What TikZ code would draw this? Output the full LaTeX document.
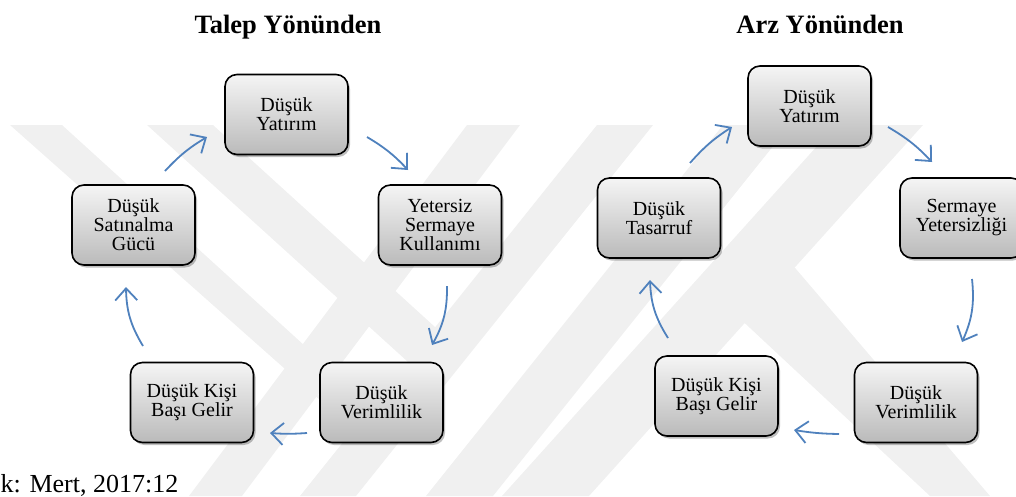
\documentclass[tikz,border=0pt]{standalone}
\usepackage{fontspec}
\setmainfont{Liberation Serif}
\usetikzlibrary{arrows.meta,shadows}
\definecolor{cycleblue}{HTML}{4F81BD}
\definecolor{markgray}{HTML}{F0F0F0}
\begin{document}
\begin{tikzpicture}[x=1pt,y=-1pt,
  stage/.style={draw=black, line width=1.6pt, rounded corners=12pt,
    minimum width=123pt, minimum height=80pt, inner sep=0pt,
    top color=black!4, bottom color=black!27, align=center,
    font=\fontsize{20}{19}\selectfont,
    drop shadow={shadow xshift=2pt, shadow yshift=-2.5pt, opacity=0.25, fill=black}},
  flow/.style={draw=cycleblue, line width=1.8pt,
    -{Straight Barb[length=12pt,width=22pt,line width=1.8pt]}},
  heading/.style={font=\fontsize{26.5}{30}\selectfont\bfseries, anchor=base},
  band/.style={fill=markgray, draw=none}]
\useasboundingbox (0,0) rectangle (1016,496);
\clip (0,0) rectangle (1016,496);

% faint striped emblem in the background
\begin{scope}
  \clip (0,125) rectangle (1016,496);
  \fill[band] (10,125) -- (62,125) -- (305,346) -- (320,400) -- cycle;
  \fill[band] (147,125) -- (213,125) -- (435,327) -- (440,391) -- cycle;
  \fill[band] (467,125) -- (520,125) -- (242,496) -- (189,496) -- cycle;
  \fill[band] (597,125) -- (653,125) -- (356,496) -- (300,496) -- cycle;
  \fill[band] (723,125) -- (790,125) -- (493,496) -- (426,496) -- cycle;
  \fill[band] (836,125) -- (923,125) -- (589,496) -- (502,496) -- cycle;
  \fill[band] (720,300) -- (790,262) -- (990,496) -- (930,496) -- cycle;
\end{scope}

% headings and source line
\node[heading] (hdemand) at (288,33) {Talep Yönünden};
\node[heading] (hsupply) at (820,33) {Arz Yönünden};
\node[font=\fontsize{26}{30}\selectfont, anchor=base west, inner sep=0pt] (source) at (0.5,492) {k: Mert, 2017:12};

% demand-side cycle
\node[stage] (dyat) at (286.5,114.5) {Düşük\\Yatırım};
\node[stage] (dguc) at (133.5,225) {Düşük\\Satınalma\\Gücü};
\node[stage] (dyet) at (440,225) {Yetersiz\\Sermaye\\Kullanımı};
\node[stage] (dkisi) at (192,402.5) {Düşük Kişi\\Başı Gelir};
\node[stage] (dver) at (381.5,402.5) {Düşük\\Verimlilik};

% supply-side cycle
\node[stage] (syat) at (809.5,106) {Düşük\\Yatırım};
\node[stage] (stas) at (659,218) {Düşük\\Tasarruf};
\node[stage] (sser) at (961.5,218) {Sermaye\\Yetersizliği};
\node[stage] (skisi) at (716.5,396) {Düşük Kişi\\Başı Gelir};
\node[stage] (sver) at (916,402.5) {Düşük\\Verimlilik};

% arrow end points (demand side)
\coordinate (d1s) at (165,171);  \coordinate (d1e) at (207,137);
\coordinate (d2s) at (367,137);  \coordinate (d2e) at (408,170);
\coordinate (d3s) at (447,286);  \coordinate (d3e) at (432,345);
\coordinate (d4s) at (307,433);  \coordinate (d4e) at (270,433);
\coordinate (d5s) at (143,346);  \coordinate (d5e) at (126,287);
% arrow end points (supply side)
\coordinate (s1s) at (690,163);  \coordinate (s1e) at (732,127);
\coordinate (s2s) at (888,127);  \coordinate (s2e) at (932,162);
\coordinate (s3s) at (972,279);  \coordinate (s3e) at (962,342);
\coordinate (s4s) at (839,434);  \coordinate (s4e) at (794,430);
\coordinate (s5s) at (668,338);  \coordinate (s5e) at (650,280);

\draw[flow] (d1s) to[bend left=8] (d1e);
\draw[flow] (d2s) to[bend left=8] (d2e);
\draw[flow] (d3s) to[bend left=15] (d3e);
\draw[flow] (d4s) to[bend left=4] (d4e);
\draw[flow] (d5s) to[bend left=15] (d5e);

\draw[flow] (s1s) to[bend left=8] (s1e);
\draw[flow] (s2s) to[bend left=8] (s2e);
\draw[flow] (s3s) to[bend left=15] (s3e);
\draw[flow] (s4s) to[bend left=4] (s4e);
\draw[flow] (s5s) to[bend left=15] (s5e);
\end{tikzpicture}
\end{document}
